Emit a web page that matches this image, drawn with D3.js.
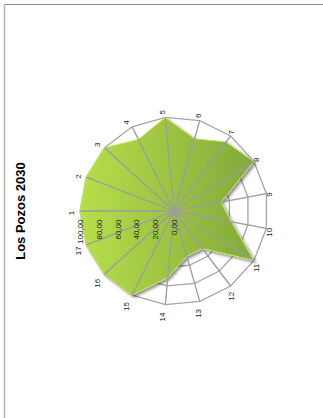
<!DOCTYPE html>
<html>
<head>
<meta charset="utf-8">
<script src="https://cdn.jsdelivr.net/npm/d3@7"></script>
<style>
  html, body { margin: 0; padding: 0; background: #fff; }
  svg { display: block; }
</style>
</head>
<body>
<script>
// Radar chart data
const categories = ["1","2","3","4","5","6","7","8","9","10","11","12","13","14","15","16","17"];
const values = [100, 100, 100, 85, 100, 80, 92, 100, 51, 62, 100, 50, 50, 71, 100, 100, 100];
const tickValues = [0, 20, 40, 60, 80, 100];
const title = "Los Pozos 2030";

const W = 323, H = 418;
// The chart is laid out in a landscape frame and turned a quarter turn.
const cx = 207, cy = 174, R = 94;

const svg = d3.select("body").append("svg")
  .attr("width", W).attr("height", H);

const defs = svg.append("defs");
// Gradient in the plot's local coordinates (origin at the centre)
const grad = defs.append("linearGradient")
  .attr("id", "fillGrad")
  .attr("gradientUnits", "userSpaceOnUse")
  .attr("x1", 0).attr("y1", -R).attr("x2", 0).attr("y2", R);
grad.append("stop").attr("offset", "0%").attr("stop-color", "#b8de4a");
grad.append("stop").attr("offset", "100%").attr("stop-color", "#7ea53a");

const shadow = defs.append("filter").attr("id", "shadow")
  .attr("x", "-20%").attr("y", "-20%").attr("width", "140%").attr("height", "140%");
shadow.append("feGaussianBlur").attr("in", "SourceAlpha").attr("stdDeviation", 1.6).attr("result", "b");
shadow.append("feOffset").attr("in", "b").attr("dx", -2).attr("dy", 2).attr("result", "o");
shadow.append("feComponentTransfer").attr("in", "o").attr("result", "s")
  .append("feFuncA").attr("type", "linear").attr("slope", 0.45);
const m = shadow.append("feMerge");
m.append("feMergeNode").attr("in", "s");
m.append("feMergeNode").attr("in", "SourceGraphic");

// Frame border
svg.append("line").attr("x1", 4).attr("x2", W).attr("y1", 4.5).attr("y2", 4.5)
  .attr("stroke", "#8c8c8c").attr("stroke-width", 1);
svg.append("line").attr("x1", 4.5).attr("x2", 4.5).attr("y1", 4).attr("y2", H)
  .attr("stroke", "#b4b4b4").attr("stroke-width", 1.5);

const g = svg.append("g").attr("transform", `translate(0,${H}) rotate(-90)`);

const r = d3.scaleLinear().domain([0, 100]).range([0, R]);
const angle = d3.scaleLinear().domain([0, categories.length]).range([0, 2 * Math.PI]);

const plot = g.append("g").attr("transform", `translate(${cx},${cy})`);

// Concentric grid rings
const ringLine = d3.lineRadial()
  .angle((d, i) => angle(i))
  .radius(d => d)
  .curve(d3.curveLinearClosed);

plot.selectAll("path.ring").data(tickValues.filter(t => t > 0)).join("path")
  .attr("class", "ring")
  .attr("d", t => ringLine(categories.map(() => r(t))))
  .attr("fill", "none").attr("stroke", "#a6a6a6").attr("stroke-width", 1.3);

// Series area
const area = d3.lineRadial()
  .angle((d, i) => angle(i))
  .radius(d => r(d))
  .curve(d3.curveLinearClosed);

plot.append("path")
  .datum(values)
  .attr("d", area)
  .attr("fill", "url(#fillGrad)")
  .attr("stroke", "#c4e466").attr("stroke-width", 1)
  .attr("filter", "url(#shadow)");

// Spokes
plot.selectAll("line.spoke").data(categories).join("line")
  .attr("class", "spoke")
  .attr("x1", 0).attr("y1", 0)
  .attr("x2", (d, i) => d3.pointRadial(angle(i), R)[0])
  .attr("y2", (d, i) => d3.pointRadial(angle(i), R)[1])
  .attr("stroke", "#9c9c9c").attr("stroke-width", 1.3);

// Category labels
plot.selectAll("text.cat").data(categories).join("text")
  .attr("class", "cat")
  .attr("x", (d, i) => {
    const a = angle(i);
    return d3.pointRadial(a, R + 4)[0] + Math.sin(a) * (d.length * 2.2 * 1.45) - 2;
  })
  .attr("y", (d, i) => {
    const a = angle(i);
    return d3.pointRadial(a, R + 4)[1] - Math.cos(a) * 2 - 3 + 2.9;
  })
  .attr("text-anchor", "middle")
  .attr("font-family", "Liberation Sans, Arial, sans-serif")
  .attr("font-size", 8)
  .attr("fill", "#222")
  .text(d => d);

// Value axis labels
const fmt = v => d3.format(".2f")(v).replace(".", ",");
plot.selectAll("text.tick").data(tickValues).join("text")
  .attr("class", "tick")
  .attr("x", -8.5)
  .attr("y", t => -r(t) + 2.9)
  .attr("text-anchor", "end")
  .attr("font-family", "Liberation Sans, Arial, sans-serif")
  .attr("font-size", 8)
  .attr("fill", "#222")
  .text(fmt);

// Title
g.append("text")
  .attr("x", cx).attr("y", 25)
  .attr("text-anchor", "middle")
  .attr("font-family", "Liberation Sans, Arial, sans-serif")
  .attr("font-weight", "bold")
  .attr("font-size", 13)
  .attr("fill", "#000")
  .text(title);
</script>
</body>
</html>
